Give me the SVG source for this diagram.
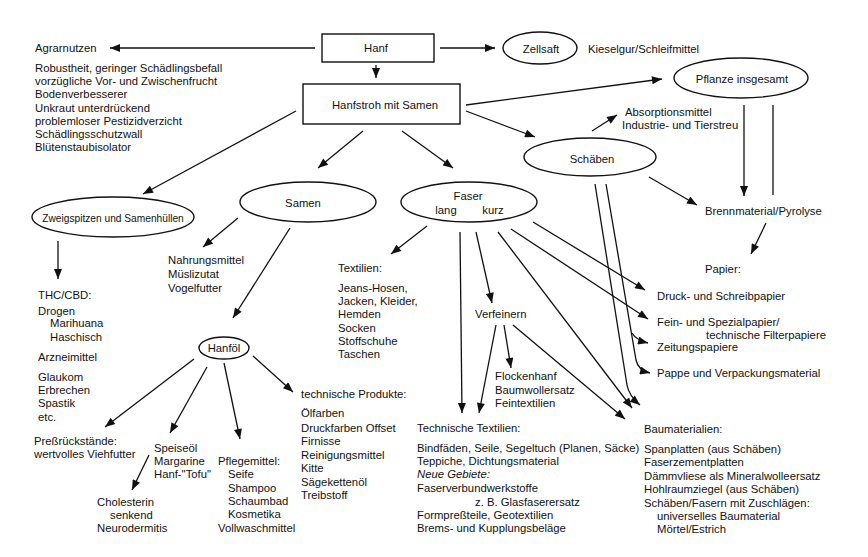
<svg xmlns="http://www.w3.org/2000/svg" width="868" height="557" viewBox="0 0 868 557">
<defs>
<marker id="ah" viewBox="0 0 10 8" refX="10" refY="4" markerWidth="11" markerHeight="8" orient="auto" markerUnits="userSpaceOnUse"><path d="M0,0 L10,4 L0,8 z" fill="#111"/></marker>
<style>
text{font-family:"Liberation Sans",Arial,sans-serif;font-size:11.3px;fill:#111}
.c{text-anchor:middle}
.s{font-size:10.2px}
.shape{fill:#fff;stroke:#111;stroke-width:1.4}
.ln{fill:none;stroke:#111;stroke-width:1.3}
.ar{marker-end:url(#ah)}
</style>
</defs>
<rect width="868" height="557" fill="#fff"/>
<g id="connectors">
<path class="ln ar" d="M315,48 L110,48"/>
<path class="ln ar" d="M440,48 L495,48"/>
<path class="ln ar" d="M376,65 L376,78"/>
<path class="ln ar" d="M466,105 L662,79"/>
<path class="ln ar" d="M466,111 L535,137"/>
<path class="ln ar" d="M296,111 L143,194"/>
<path class="ln ar" d="M363,131 L318,168"/>
<path class="ln ar" d="M402,131 L453,168"/>
<path class="ln ar" d="M592,131 L617,115"/>
<path class="ln ar" d="M649,177 L697,205"/>
<path class="ln ar" d="M744,105 L744,196"/>
<path class="ln" d="M773,105 L773,195"/>
<path class="ln ar" d="M766,223 L751,254"/>
<path class="ln ar" d="M595,184 L627,385 Q629,396 640,405"/>
<path class="ln ar" d="M606,184 L636,360 Q638,370 650,373"/>
<path class="ln ar" d="M632,333 Q636,340 648,343"/>
<path class="ln ar" d="M427,226 L391,254"/>
<path class="ln ar" d="M460,232 L462,413"/>
<path class="ln ar" d="M476,232 L492,303"/>
<path class="ln ar" d="M498,232 L632,408"/>
<path class="ln ar" d="M511,229 L648,319"/>
<path class="ln ar" d="M533,222 L645,290"/>
<path class="ln ar" d="M496,325 L479,413"/>
<path class="ln ar" d="M504,325 L511,368"/>
<path class="ln ar" d="M513,325 L625,419"/>
<path class="ln ar" d="M58,241 L58,279"/>
<path class="ln ar" d="M238,218 L203,247"/>
<path class="ln ar" d="M290,228 L233,318"/>
<path class="ln ar" d="M253,356 L293,392"/>
<path class="ln ar" d="M194,359 L105,427"/>
<path class="ln ar" d="M207,367 L170,433"/>
<path class="ln ar" d="M224,363 L240,439"/>
<path class="ln ar" d="M149,455 L132,490"/>
</g>
<g id="hanf"><rect class="shape" x="322" y="34" width="112" height="28"/><text class="c" x="376" y="52">Hanf</text></g>
<g id="hanfstroh"><rect class="shape" x="303" y="84" width="157" height="40"/><text class="c" x="385" y="109" font-size="11.6px">Hanfstroh mit Samen</text></g>
<g id="zellsaft"><ellipse class="shape" cx="540" cy="48" rx="37" ry="16"/><text class="c" x="541" y="53">Zellsaft</text></g>
<g id="kieselgur"><text x="588" y="53">Kieselgur/Schleifmittel</text></g>
<g id="pflanze"><ellipse class="shape" cx="741" cy="78" rx="67" ry="20"/><text class="c" x="742" y="83">Pflanze insgesamt</text></g>
<g id="agrar">
<text x="35" y="52">Agrarnutzen</text>
<text x="35" y="72">Robustheit, geringer Schädlingsbefall</text>
<text x="35" y="85">vorzügliche Vor- und Zwischenfrucht</text>
<text x="35" y="98">Bodenverbesserer</text>
<text x="35" y="112">Unkraut unterdrückend</text>
<text x="35" y="125">problemloser Pestizidverzicht</text>
<text x="35" y="138">Schädlingsschutzwall</text>
<text x="35" y="151">Blütenstaubisolator</text>
</g>
<g id="absorption">
<text x="625" y="116">Absorptionsmittel</text>
<text x="622" y="129">Industrie- und Tierstreu</text>
</g>
<g id="schaeben"><ellipse class="shape" cx="590" cy="157" rx="66" ry="19"/><text class="c" x="592" y="163">Schäben</text></g>
<g id="brenn"><text x="705" y="215">Brennmaterial/Pyrolyse</text></g>
<g id="papier">
<text x="705" y="273">Papier:</text>
<text x="657" y="300">Druck- und Schreibpapier</text>
<text x="657" y="326">Fein- und Spezialpapier/</text>
<text x="706" y="339">technische Filterpapiere</text>
<text x="657" y="351">Zeitungspapiere</text>
<text x="657" y="377">Pappe und Verpackungsmaterial</text>
</g>
<g id="zweig"><ellipse class="shape" cx="113" cy="217" rx="81" ry="20"/><text class="c s" x="113" y="222">Zweigspitzen und Samenhüllen</text></g>
<g id="samen"><ellipse class="shape" cx="308" cy="202" rx="68" ry="20"/><text class="c" x="303" y="207">Samen</text></g>
<g id="faser"><ellipse class="shape" cx="469" cy="202" rx="68" ry="20"/><text class="c" x="468" y="200">Faser</text><text class="c" x="446" y="214">lang</text><text class="c" x="493" y="214">kurz</text></g>
<g id="thc">
<text x="38" y="299">THC/CBD:</text>
<text x="38" y="315">Drogen</text>
<text x="50" y="327">Marihuana</text>
<text x="50" y="341">Haschisch</text>
<text x="38" y="361">Arzneimittel</text>
<text x="38" y="381">Glaukom</text>
<text x="38" y="394">Erbrechen</text>
<text x="38" y="407">Spastik</text>
<text x="38" y="421">etc.</text>
</g>
<g id="nahrung">
<text x="168" y="264">Nahrungsmittel</text>
<text x="168" y="278">Müslizutat</text>
<text x="168" y="292">Vogelfutter</text>
</g>
<g id="hanfoel"><ellipse class="shape" cx="224" cy="348" rx="25" ry="11"/><text class="c" x="224" y="352">Hanföl</text></g>
<g id="techprod">
<text x="301" y="398">technische Produkte:</text>
<text x="301" y="417">Ölfarben</text>
<text x="301" y="432">Druckfarben Offset</text>
<text x="301" y="445">Firnisse</text>
<text x="301" y="459">Reinigungsmittel</text>
<text x="301" y="472">Kitte</text>
<text x="301" y="486">Sägekettenöl</text>
<text x="301" y="499">Treibstoff</text>
</g>
<g id="press">
<text x="34" y="445">Preßrückstände:</text>
<text x="34" y="458">wertvolles Viehfutter</text>
</g>
<g id="speiseoel">
<text x="154" y="452">Speiseöl</text>
<text x="154" y="465">Margarine</text>
<text x="154" y="478">Hanf-"Tofu"</text>
</g>
<g id="cholesterin">
<text x="97" y="506">Cholesterin</text>
<text x="110" y="519">senkend</text>
<text x="97" y="532">Neurodermitis</text>
</g>
<g id="pflege">
<text x="218" y="465">Pflegemittel:</text>
<text x="228" y="478">Seife</text>
<text x="228" y="492">Shampoo</text>
<text x="228" y="505">Schaumbad</text>
<text x="228" y="518">Kosmetika</text>
<text x="218" y="532">Vollwaschmittel</text>
</g>
<g id="textilien">
<text x="338" y="272">Textilien:</text>
<text x="338" y="292">Jeans-Hosen,</text>
<text x="338" y="305">Jacken, Kleider,</text>
<text x="338" y="318">Hemden</text>
<text x="338" y="332">Socken</text>
<text x="338" y="345">Stoffschuhe</text>
<text x="338" y="358">Taschen</text>
</g>
<g id="verfeinern"><text x="475" y="318">Verfeinern</text></g>
<g id="flocken">
<text x="495" y="380">Flockenhanf</text>
<text x="495" y="394">Baumwollersatz</text>
<text x="495" y="407">Feintextilien</text>
</g>
<g id="techtex">
<text x="417" y="432">Technische Textilien:</text>
<text x="417" y="452">Bindfäden, Seile, Segeltuch (Planen, Säcke)</text>
<text x="417" y="465">Teppiche, Dichtungsmaterial</text>
<text x="417" y="478" font-style="italic">Neue Gebiete:</text>
<text x="417" y="492">Faserverbundwerkstoffe</text>
<text x="475" y="506">z. B. Glasfaserersatz</text>
<text x="417" y="519">Formpreßteile, Geotextilien</text>
<text x="417" y="532">Brems- und Kupplungsbeläge</text>
</g>
<g id="bau">
<text x="644" y="433">Baumaterialien:</text>
<text x="644" y="453">Spanplatten (aus Schäben)</text>
<text x="644" y="466">Faserzementplatten</text>
<text x="644" y="480">Dämmvliese als Mineralwolleersatz</text>
<text x="644" y="493">Hohlraumziegel (aus Schäben)</text>
<text x="644" y="507">Schäben/Fasern mit Zuschlägen:</text>
<text x="657" y="520">universelles Baumaterial</text>
<text x="657" y="533">Mörtel/Estrich</text>
</g>
</svg>
